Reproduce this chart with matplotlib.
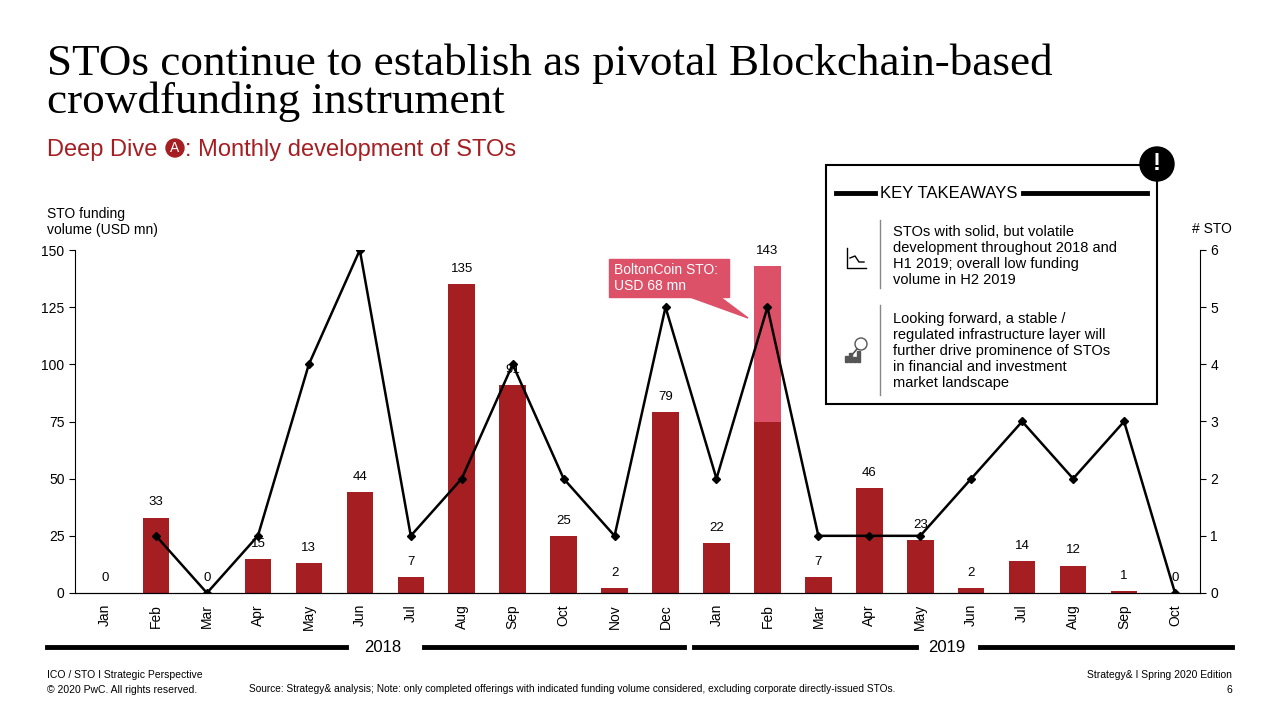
import matplotlib
matplotlib.use("Agg")
import matplotlib.pyplot as plt
from matplotlib.patches import Rectangle, Ellipse, Polygon

months = ["Jan","Feb","Mar","Apr","May","Jun","Jul","Aug","Sep","Oct","Nov","Dec",
          "Jan","Feb","Mar","Apr","May","Jun","Jul","Aug","Sep","Oct"]
volume = [0,33,0,15,13,44,7,135,91,25,2,79,22,143,7,46,23,2,14,12,1,0]
volume_base = [0,33,0,15,13,44,7,135,91,25,2,79,22,75,7,46,23,2,14,12,1,0]
bolton = [0,0,0,0,0,0,0,0,0,0,0,0,0,68,0,0,0,0,0,0,0,0]
sto_count = [None,1,0,1,4,6,1,2,4,2,1,5,2,5,1,1,1,2,3,2,3,0]

RED = "#a51e22"; PINK = "#dc5068"
fig = plt.figure(figsize=(12.8,7.2), dpi=100)
fig.patch.set_facecolor("white")
ax = fig.add_axes([75/1280, 1-593/720, 1125/1280, 343/720])
x = list(range(len(months)))
ax.bar(x, volume_base, width=0.52, color=RED, zorder=2)
ax.bar(x, bolton, bottom=volume_base, width=0.52, color=PINK, zorder=2)
for i,v in enumerate(volume):
    ax.text(i, v+4, str(v), ha="center", va="bottom", fontsize=9.5, family="Liberation Sans")
ax.set_xlim(-0.59, 21.49); ax.set_ylim(0,150)
ax.set_yticks([0,25,50,75,100,125,150])
ax.set_xticks(x); ax.set_xticklabels(months, rotation=90, fontsize=10, family="Liberation Sans")
for s in ["top","right"]: ax.spines[s].set_visible(False)
ax.tick_params(axis="y", labelsize=10, length=4)
ax.tick_params(axis="x", length=0, pad=8)
for l in ax.get_yticklabels(): l.set_family("Liberation Sans")
ax2 = ax.twinx()
xs = [i for i,v in enumerate(sto_count) if v is not None]
ys = [v for v in sto_count if v is not None]
ax2.plot(xs, ys, color="black", lw=1.8, marker="D", ms=4, zorder=3)
ax2.set_ylim(0,6); ax2.set_yticks(range(7))
for s in ["top","left"]: ax2.spines[s].set_visible(False)
ax2.tick_params(axis="y", labelsize=10, length=4)
for l in ax2.get_yticklabels(): l.set_family("Liberation Sans")

F = dict(family="Liberation Sans")
T = fig.transFigure
def px(xp, yp): return (xp/1280, 1-yp/720)
def circ(xp, yp, r, **kw):
    fig.add_artist(Ellipse(px(xp, yp), 2*r/1280, 2*r/720, transform=T, **kw))

fig.text(47/1280, 1-83/720, "STOs continue to establish as pivotal Blockchain-based\ncrowdfunding instrument",
         fontsize=32.5, family="Liberation Serif", va="center", linespacing=0.93)
fig.text(47/1280, 1-150/720, "Deep Dive", fontsize=17, color=RED, va="center", **F)
circ(175, 148, 9, color=RED)
fig.text(175/1280, 1-148/720, "A", color="white", fontsize=10, ha="center", va="center", **F)
fig.text(185/1280, 1-150/720, ": Monthly development of STOs", fontsize=17, color=RED, va="center", **F)
fig.text(47/1280, 1-222/720, "STO funding\nvolume (USD mn)", fontsize=10, va="center", **F)
fig.text(1232/1280, 1-229/720, "# STO", fontsize=10, ha="right", va="center", **F)

for x0,x1 in [(47,346),(424,684),(694,916),(980,1232)]:
    fig.add_artist(plt.Line2D([x0/1280,x1/1280],[1-647/720]*2, color="black", lw=3.5))
fig.text(383/1280, 1-647/720, "2018", fontsize=12, ha="center", va="center", **F)
fig.text(947/1280, 1-647/720, "2019", fontsize=12, ha="center", va="center", **F)

fig.add_artist(Rectangle(px(609, 297), 120/1280, 38/720, transform=T, color=PINK))
fig.add_artist(Polygon([px(690,297), px(720,297), px(748,318)], transform=T, color=PINK))
fig.text(614/1280, 1-278/720, "BoltonCoin STO:\nUSD 68 mn", color="white", fontsize=10, va="center", **F)

fig.add_artist(Rectangle(px(826, 404), 331/1280, 239/720, transform=T, fill=False, ec="black", lw=1.5, zorder=5))
fig.add_artist(plt.Line2D([836/1280,875/1280],[1-193/720]*2, color="black", lw=3.5))
fig.add_artist(plt.Line2D([1023/1280,1147/1280],[1-193/720]*2, color="black", lw=3.5))
fig.text(949/1280, 1-193/720, "KEY TAKEAWAYS", fontsize=12, ha="center", va="center", **F)
circ(1157, 164, 17, color="black", zorder=6)
fig.text(1157/1280, 1-164/720, "!", color="white", fontsize=17, fontweight="bold", ha="center", va="center", zorder=7, **F)
fig.add_artist(plt.Line2D([880/1280]*2,[1-288/720,1-220/720], color="#888888", lw=1))
fig.add_artist(plt.Line2D([880/1280]*2,[1-395/720,1-305/720], color="#888888", lw=1))
fig.text(893/1280, 1-256/720, "STOs with solid, but volatile\ndevelopment throughout 2018 and\nH1 2019; overall low funding\nvolume in H2 2019",
         fontsize=10.5, va="center", linespacing=1.2, **F)
fig.text(893/1280, 1-351/720, "Looking forward, a stable /\nregulated infrastructure layer will\nfurther drive prominence of STOs\nin financial and investment\nmarket landscape",
         fontsize=10.5, va="center", linespacing=1.2, **F)
fig.add_artist(plt.Line2D([px(847,248)[0],px(847,268)[0],px(866,268)[0]],
                          [px(847,248)[1],px(847,268)[1],px(866,268)[1]], transform=T, color="black", lw=1))
fig.add_artist(plt.Line2D([px(850,258)[0],px(855,256)[0],px(859,262)[0],px(864,262)[0]],
                          [px(850,258)[1],px(855,256)[1],px(859,262)[1],px(864,262)[1]], transform=T, color="black", lw=1))
for i,h in enumerate([6,9,5,11]):
    fig.add_artist(Rectangle(px(845+i*4, 362), 2.5/1280, h/720, transform=T, color="#555555"))
circ(861, 344, 6, fill=False, ec="#555555", lw=1)
fig.add_artist(plt.Line2D([px(857,349)[0],px(851,356)[0]],[px(857,349)[1],px(851,356)[1]], transform=T, color="#555555", lw=1.2))

fig.text(47/1280, 1-675/720, "ICO / STO I Strategic Perspective", fontsize=7.5, va="center", **F)
fig.text(47/1280, 1-690/720, "© 2020 PwC. All rights reserved.", fontsize=7.5, va="center", **F)
fig.text(572/1280, 1-689/720, "Source: Strategy& analysis; Note: only completed offerings with indicated funding volume considered, excluding corporate directly-issued STOs.",
         fontsize=7.3, ha="center", va="center", **F)
fig.text(1232/1280, 1-675/720, "Strategy& I Spring 2020 Edition", fontsize=7.5, ha="right", va="center", **F)
fig.text(1232/1280, 1-690/720, "6", fontsize=7.5, ha="right", va="center", **F)
fig.savefig("out.png", dpi=100)
